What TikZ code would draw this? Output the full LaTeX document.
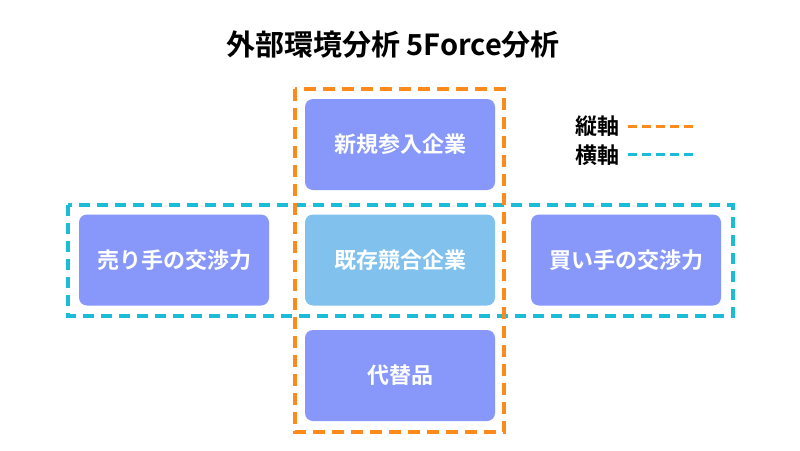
\documentclass[tikz,border=0pt]{standalone}
\usepackage{fontspec}
\newfontfamily\jpb{Noto Sans CJK JP Bold}
\definecolor{boxblue}{HTML}{8798FA}
\definecolor{midblue}{HTML}{80C1EE}
\definecolor{dashorange}{HTML}{FF8A1C}
\definecolor{dashcyan}{HTML}{1BBCD8}
\tikzset{
  forcebox/.style={draw=none, fill=boxblue, rounded corners=8pt, minimum width=190pt, minimum height=91pt, inner sep=0pt, text=white, font=\jpb\fontsize{22}{24}\selectfont},
  vdash/.style={draw=dashorange, line width=4pt, dash pattern=on 12pt off 7pt},
  hdash/.style={draw=dashcyan, line width=4pt, dash pattern=on 11pt off 7pt},
  legtext/.style={font=\jpb\fontsize{22}{24}\selectfont, text=black, inner sep=0pt},
}
\begin{document}
\begin{tikzpicture}[x=1pt,y=-1pt]
\useasboundingbox (0,0) rectangle (800,450);
\fill[white] (0,0) rectangle (800,450);
\node[font=\jpb\fontsize{29}{32}\selectfont, inner sep=0pt] (title) at (393,45) {外部環境分析 5Force分析};
\node[forcebox] (new) at (400,144.5) {新規参入企業};
\node[forcebox, fill=midblue] (rival) at (400,260) {既存競合企業};
\node[forcebox] (sub) at (400,375.5) {代替品};
\node[forcebox] (sell) at (174,260) {売り手の交渉力};
\node[forcebox] (buy) at (626,260) {買い手の交渉力};
\draw[hdash] (68,205) rectangle (733,316);
\draw[vdash] (295,89) rectangle (504,432);
\node[legtext] (v) at (597,126) {縦軸};
\node[legtext] (h) at (597,155) {横軸};
\coordinate (v1) at (628,126);
\coordinate (v2) at (694,126);
\coordinate (h1) at (628,154);
\coordinate (h2) at (694,154);
\draw[draw=dashorange, line width=3pt, dash pattern=on 9pt off 5pt] (v1) -- (v2);
\draw[draw=dashcyan, line width=3pt, dash pattern=on 9pt off 5pt] (h1) -- (h2);
\end{tikzpicture}
\end{document}
